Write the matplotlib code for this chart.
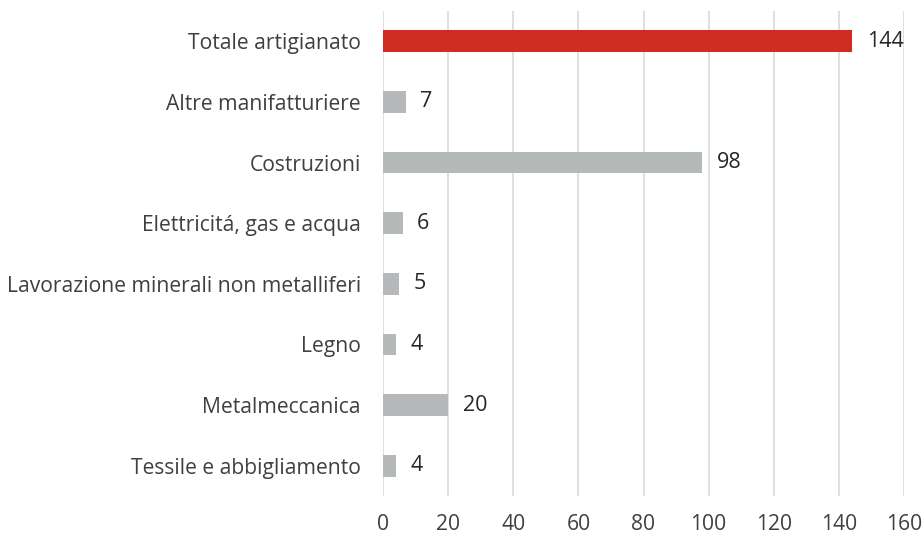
import matplotlib
matplotlib.use('Agg')
import matplotlib.pyplot as plt

categories = ['Totale artigianato', 'Altre manifatturiere', 'Costruzioni',
              'Elettricitá, gas e acqua', 'Lavorazione minerali non metalliferi',
              'Legno', 'Metalmeccanica', 'Tessile e abbigliamento']
values = [144, 7, 98, 6, 5, 4, 20, 4]
bar_colors = ['#d02c20'] + ['#b5b9ba'] * 7
xticks = [0, 20, 40, 60, 80, 100, 120, 140, 160]

plt.rcParams['font.family'] = ['Open Sans', 'DejaVu Sans']

fig = plt.figure(figsize=(9.24, 5.39), dpi=100)
ax = fig.add_axes([383 / 924, 1 - 496 / 539, (904 - 383) / 924, 485 / 539])

pos = list(range(len(categories)))
ax.barh(pos, values, height=0.36, color=bar_colors, zorder=3)
for p, v in zip(pos, values):
    ax.text(v + 4.5, p, str(v), va='center', ha='left', fontsize=15.5, color='#262626')

ax.set_yticks(pos)
ax.set_yticklabels(categories, fontsize=15.2, color='#404040')
ax.set_ylim(len(categories) - 0.5, -0.5)
ax.set_xlim(0, 160)
ax.set_xticks(xticks)
ax.set_xticklabels([str(t) for t in xticks], fontsize=15.2, color='#404040')
ax.grid(axis='x', color='#d9d9d9', linewidth=1.2, zorder=0)
ax.tick_params(length=0)
ax.tick_params(axis='y', pad=16)
ax.tick_params(axis='x', pad=13)
for s in ax.spines.values():
    s.set_visible(False)

fig.savefig('out.png', dpi=100)
